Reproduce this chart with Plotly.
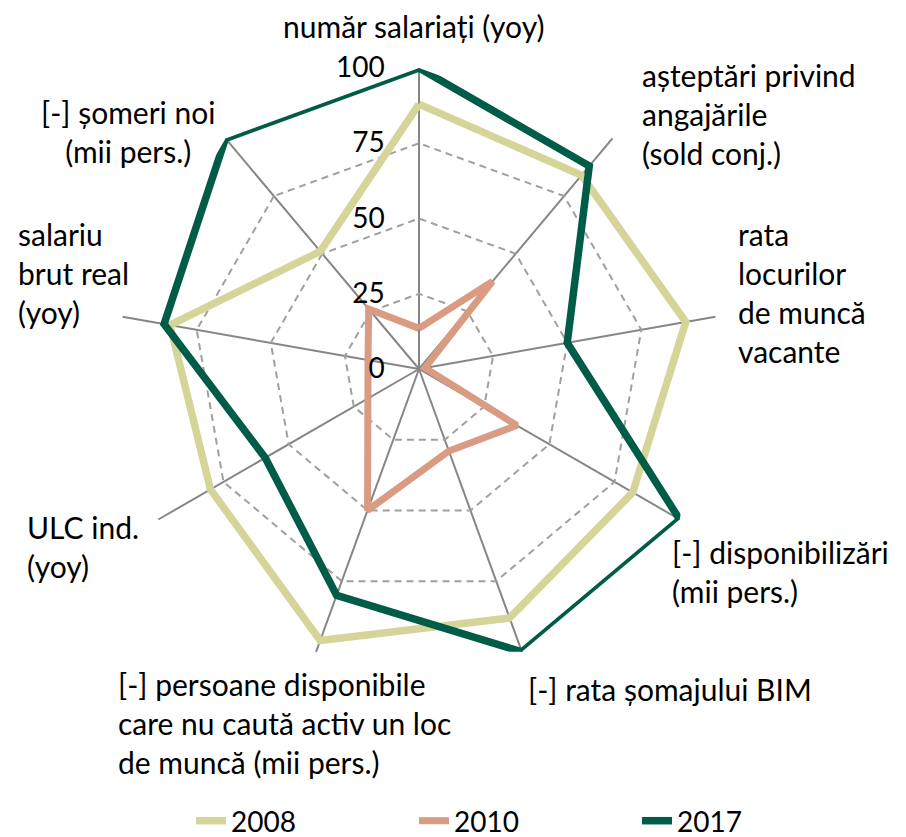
import plotly.graph_objects as go

categories = [
    "număr salariați (yoy)",
    "așteptări privind<br>angajările<br>(sold conj.)",
    "rata<br>locurilor<br>de muncă<br>vacante",
    "[-] disponibilizări<br>(mii pers.)",
    "[-] rata șomajului BIM",
    "[-] persoane disponibile<br>care nu caută activ un loc<br>de muncă (mii pers.)",
    "ULC ind.<br>(yoy)",
    "salariu<br>brut real<br>(yoy)",
    "[-] șomeri noi<br>(mii pers.)",
]
series_names = ["2008", "2010", "2017"]
values_2008 = [88, 84, 90, 82, 88, 96, 80, 84, 51]
values_2010 = [13.5, 38, 2, 37.5, 29, 50, 19.6, 17.2, 26]
values_2017 = [100, 88, 50, 100, 100, 80, 59, 86, 100]
colors = ["#D5D59A", "#D99B82", "#005C46"]
line_widths = [7.5, 7, 7.5]
radial_ticks = [0, 25, 50, 75, 100]

FONT = "Lato"
LABEL_SIZE = 30

# label placement (paper pixels): x, y of first line centre, xanchor, align
label_pos = [
    (405, 18, "center", "center"),
    (632, 67, "left", "left"),
    (728, 226, "left", "left"),
    (662, 544, "left", "left"),
    (518, 681, "left", "left"),
    (108, 676, "left", "left"),
    (17, 519, "left", "left"),
    (8, 226, "left", "left"),
    (120, 104, "center", "center"),
]

W, H = 906, 837
fig = go.Figure()
for name, vals, col, lw in zip(series_names, [values_2008, values_2010, values_2017], colors, line_widths):
    fig.add_trace(go.Scatterpolar(
        r=vals + vals[:1],
        theta=categories + categories[:1],
        mode="lines",
        name=name,
        line=dict(color=col, width=lw),
    ))

annotations = []
for text, (px, py, xa, al) in zip(categories, label_pos):
    n = text.count("<br>")
    annotations.append(dict(
        text=text, x=px / W, y=1 - py / H, xref="paper", yref="paper",
        xanchor=xa, yanchor="middle", align=al, showarrow=False,
        font=dict(family=FONT, size=LABEL_SIZE, color="black"),
        yshift=-n * LABEL_SIZE * 1.3 / 2,
    ))

dx, dy = -7, -9  # compensation for plotly's polar placement
fig.update_layout(
    width=W, height=H,
    margin=dict(l=0, r=0, t=0, b=0, autoexpand=False),
    paper_bgcolor="white",
    plot_bgcolor="white",
    font=dict(family=FONT, size=LABEL_SIZE, color="black"),
    polar=dict(
        domain=dict(x=[(117 + dx) / W, (719 + dx) / W],
                    y=[1 - (671 + dy) / H, 1 - (69 + dy) / H]),
        bgcolor="white",
        gridshape="linear",
        radialaxis=dict(
            range=[0, 100], tickvals=radial_ticks, ticktext=[str(t) for t in radial_ticks],
            angle=90, tickangle=90, side="counterclockwise", showline=False,
            ticks="outside", ticklen=24, tickcolor="rgba(0,0,0,0)",
            gridcolor="#A0A0A0", griddash="7px,5px", gridwidth=1.5,
            tickfont=dict(family=FONT, size=28),
        ),
        angularaxis=dict(
            direction="clockwise", rotation=90,
            showline=False, showticklabels=False,
            gridcolor="#868686", gridwidth=1.5, ticks="",
        ),
    ),
    legend=dict(
        orientation="h", x=183/W, xanchor="left", y=1-813/H, yanchor="middle",
        font=dict(family=FONT, size=28), entrywidth=178, entrywidthmode="pixels",
    ),
    annotations=annotations,
)

fig.write_html("out.html")
